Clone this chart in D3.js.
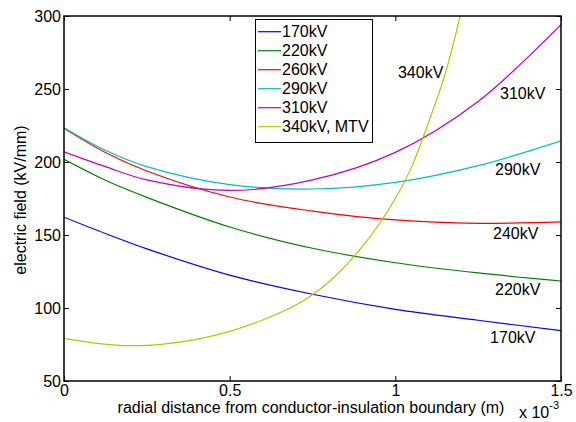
<!DOCTYPE html>
<html><head><meta charset="utf-8">
<script src="https://cdn.jsdelivr.net/npm/d3@7"></script>
<style>body{margin:0;background:#fff}svg{display:block}text{font-family:"Liberation Sans",Arial,sans-serif;fill:#000}</style>
</head><body><svg id="c" width="576" height="422"></svg>
<script>
// x values in units of 1e-3 m
const xCommon = [0, 0.125, 0.25, 0.5, 0.75, 1.0, 1.25, 1.5];
const v170 = [162.2, 151, 140.5, 122.5, 109.4, 99.1, 91.6, 84.5];
const v220 = [201.8, 187.5, 175.8, 155.5, 140.9, 131, 124, 118.5];
const v260 = [223, 206.5, 193.8, 176, 166.4, 160.3, 158, 159];
const v290 = [223.5, 208, 196.8, 184.5, 181.5, 186, 197.5, 214.5];
const v310 = [207, 196.8, 187.7, 180.5, 187.7, 206.6, 241.5, 294];
const xMTV = [0, 0.1, 0.2, 0.3, 0.4, 0.5, 0.6, 0.7, 0.75, 0.8, 0.85, 0.9, 0.95, 1.0, 1.05, 1.1, 1.15, 1.2];
const v340 = [79.2, 75.8, 74.2, 75.3, 78.5, 84, 91.8, 102, 109, 118, 129, 142, 157, 175, 197, 227, 260, 304];
const legendLabels = ["170kV", "220kV", "260kV", "290kV", "310kV", "340kV, MTV"];
const colors = ["#0000FF", "#008000", "#FF0000", "#00BFBF", "#BF00BF", "#BFBF00"];
const xTicks = [0, 0.5, 1, 1.5];
const xTickLabels = ["0", "0.5", "1", "1.5"];
const yTicks = [50, 100, 150, 200, 250, 300];
const curveLabels = [
  {text: "340kV", x: 1.008, y: 257.5},
  {text: "310kV", x: 1.316, y: 243.2},
  {text: "290kV", x: 1.301, y: 191.1},
  {text: "240kV", x: 1.295, y: 147.3},
  {text: "220kV", x: 1.301, y: 109},
  {text: "170kV", x: 1.286, y: 76}
];

const svg = d3.select("#c");
const L = 64, R = 561, T = 16, B = 381;
const x = d3.scaleLinear().domain([0, 1.5]).range([L, R]);
const y = d3.scaleLinear().domain([50, 300]).range([B, T]);
const fs = 16;

svg.append("defs").append("clipPath").attr("id", "clip")
  .append("rect").attr("x", L).attr("y", T).attr("width", R - L).attr("height", B - T);

const series = [
  {xs: xCommon, vs: v170}, {xs: xCommon, vs: v220}, {xs: xCommon, vs: v260},
  {xs: xCommon, vs: v290}, {xs: xCommon, vs: v310}, {xs: xMTV, vs: v340}
];
const line = d3.line().x(d => x(d[0])).y(d => y(d[1])).curve(d3.curveCatmullRom.alpha(0.5));
const g = svg.append("g").attr("clip-path", "url(#clip)");
series.forEach((s, i) => {
  g.append("path").datum(s.xs.map((xv, j) => [xv, s.vs[j]]))
    .attr("d", line).attr("fill", "none").attr("stroke", colors[i]).attr("stroke-width", 1.2);
});

// axes (inside ticks, box)
function styleAxis(sel) {
  sel.select(".domain").remove();
  sel.selectAll("line").attr("stroke", "#000").attr("stroke-width", 1);
  sel.selectAll("text").style("font-size", fs + "px").attr("fill", "#000");
}
svg.append("g").attr("transform", `translate(0,${B})`)
  .call(d3.axisBottom(x).tickValues(xTicks).tickFormat((d, i) => xTickLabels[i]).tickSize(-5).tickPadding(4))
  .call(styleAxis);
svg.append("g").attr("transform", `translate(0,${T})`)
  .call(d3.axisTop(x).tickValues(xTicks).tickFormat("").tickSize(-5))
  .call(styleAxis);
svg.append("g").attr("transform", `translate(${L},0)`)
  .call(d3.axisLeft(y).tickValues(yTicks).tickSize(-5).tickPadding(3))
  .call(styleAxis);
svg.append("g").attr("transform", `translate(${R},0)`)
  .call(d3.axisRight(y).tickValues(yTicks).tickFormat("").tickSize(-5))
  .call(styleAxis);
svg.append("rect").attr("x", L).attr("y", T).attr("width", R - L).attr("height", B - T)
  .attr("fill", "none").attr("stroke", "#000").attr("stroke-width", 1.5);

// curve labels
curveLabels.forEach(c => {
  svg.append("text").attr("x", x(c.x)).attr("y", y(c.y)).style("font-size", fs + "px").text(c.text);
});

// axis titles
svg.append("text").attr("x", 311).attr("y", 413).attr("text-anchor", "middle")
  .style("font-size", fs + "px").text("radial distance from conductor-insulation boundary (m)");
const sx = svg.append("text").attr("x", 519).attr("y", 418).style("font-size", fs + "px");
sx.append("tspan").text("x 10");
sx.append("tspan").attr("dy", -9).style("font-size", "11px").text("-3");
svg.append("text").attr("transform", "translate(26,200) rotate(-90)").attr("text-anchor", "middle")
  .style("font-size", fs + "px").text("electric field (kV/mm)");

// legend
const lg = svg.append("g");
lg.append("rect").attr("x", 255.5).attr("y", 19.5).attr("width", 117).attr("height", 123)
  .attr("fill", "#fff").attr("stroke", "#000").attr("stroke-width", 1);
legendLabels.forEach((t, i) => {
  const cy = 31.7 + i * 19;
  lg.append("line").attr("x1", 258).attr("x2", 281).attr("y1", cy).attr("y2", cy)
    .attr("stroke", colors[i]).attr("stroke-width", 1.2);
  lg.append("text").attr("x", 282).attr("y", cy).attr("dy", "0.36em").style("font-size", fs + "px").text(t);
});
</script></body></html>
